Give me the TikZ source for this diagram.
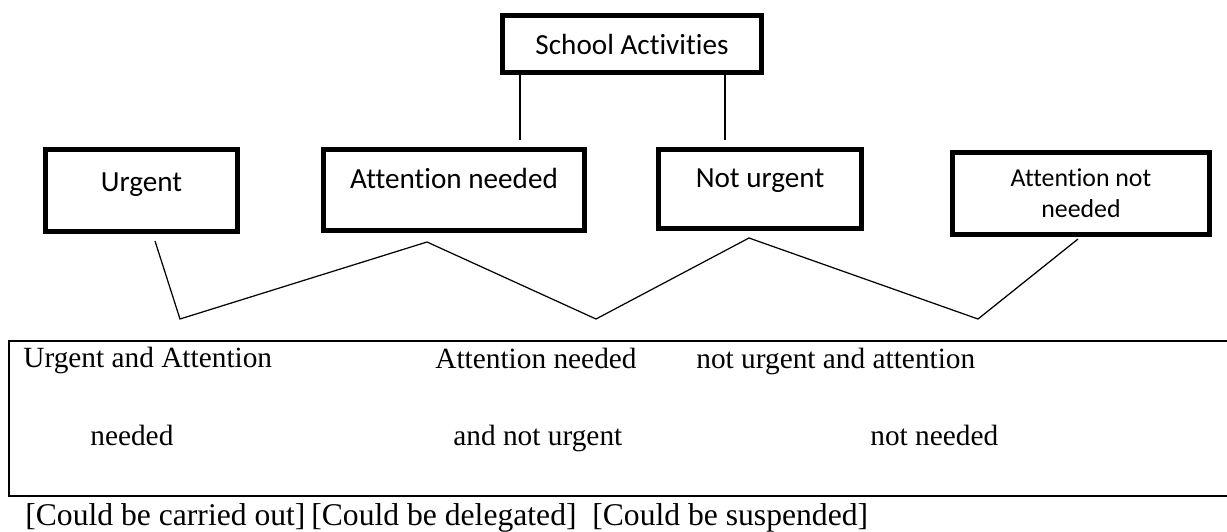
\documentclass[tikz,border=0pt]{standalone}
\usepackage{fontspec}
\setmainfont{Liberation Serif}
\newfontfamily\calfont[Ligatures=NoCommon]{Carlito}
\begin{document}
\begin{tikzpicture}[x=0.02cm,y=-0.02cm,
	catbox/.style={draw,line width=2.8pt,inner xsep=0pt,inner ysep=0pt,font=\calfont\fontsize{16.6}{20}\selectfont},
	link/.style={line width=0.7pt},
	rowtext/.style={anchor=base west,inner sep=0pt,font=\fontsize{16.7}{20}\selectfont},
	notetext/.style={anchor=base west,inner sep=0pt,font=\fontsize{18}{22}\selectfont}]
	\useasboundingbox (0,0) rectangle (1227,531);
	%top
	\node[catbox,minimum width=5.18cm,minimum height=1.14cm] (sa) at (632,44) {School Activities};
	%categories
	\node[catbox,anchor=base,minimum width=3.84cm,text height=0.83cm,text depth=0.81cm] (ur) at (141.5,191) {Urgent};
	\node[catbox,anchor=base,minimum width=5.22cm,text height=0.77cm,text depth=0.85cm] (an) at (454,188) {Attention needed};
	\node[catbox,anchor=base,minimum width=4.06cm,text height=0.75cm,text depth=0.83cm] (nu) at (760,187) {Not urgent};
	\node[catbox,minimum width=5.14cm,minimum height=1.64cm,align=center,font=\calfont\fontsize{14.7}{17.6}\selectfont] (ann) at (1081,193.5) {Attention not\\needed};
	
	\coordinate (s1) at (520,140);
	\coordinate (s2) at (725,140);
	\draw[link] (sa.south -| s1) -- (s1);
	\draw[link] (sa.south -| s2) -- (s2);
	
	%zigzag
	\coordinate (u1) at (155,241);
	\coordinate (a1) at (427,242);
	\coordinate (n1) at (749,238);
	\coordinate (t1) at (1078,239);
	\coordinate (v1) at (180,319);
	\coordinate (v2) at (596,319);
	\coordinate (v3) at (978,319);
	\draw[link] (u1) -- (v1) -- (a1) -- (v2) -- (n1) -- (v3) -- (t1);
	
	%table
	\draw[line width=1.2pt] (1227,341) -- (9,341) -- (9,496) -- (1227,496);
	\node[rowtext] (r11) at (23,367) {Urgent and Attention};
	\node[rowtext] (r12) at (435,368) {Attention needed};
	\node[rowtext] (r13) at (696,368) {not urgent and attention};
	\node[rowtext] (r21) at (90,445) {needed};
	\node[rowtext] (r22) at (453,445) {and not urgent};
	\node[rowtext] (r23) at (870,445) {not needed};
	
	\node[notetext] (c1) at (25,525) {[Could be carried out]};
	\node[notetext] (c2) at (311,525) {[Could be delegated]};
	\node[notetext] (c3) at (592,525) {[Could be suspended]};
\end{tikzpicture}
\end{document}
